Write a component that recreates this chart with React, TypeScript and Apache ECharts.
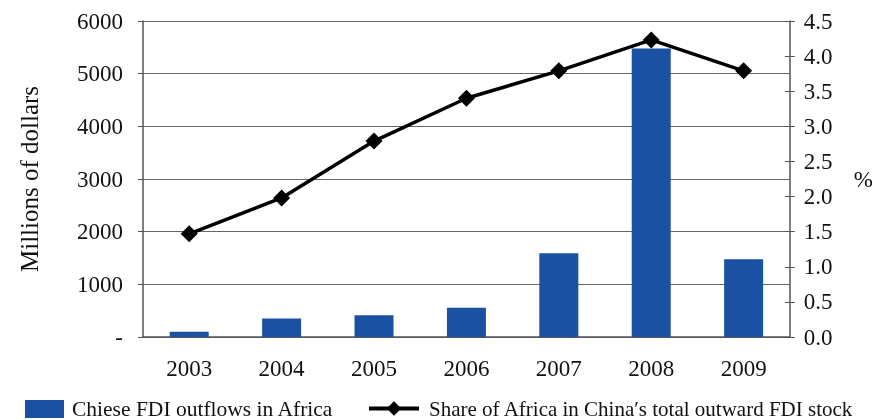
import React, { useEffect, useRef } from "react";
import * as echarts from "echarts";

const years = ["2003", "2004", "2005", "2006", "2007", "2008", "2009"];
const fdiOutflows = [100, 350, 415, 555, 1590, 5480, 1475];
const africaShare = [1.47, 1.98, 2.79, 3.4, 3.79, 4.23, 3.79];
const barName = "Chiese FDI outflows in Africa";
const lineName = "Share of Africa in China\u2032s total outward FDI stock";

const FONT = "'Liberation Serif', 'Times New Roman', serif";

export default function App() {
  const ref = useRef<HTMLDivElement>(null);
  useEffect(() => {
    if (!ref.current) return;
    const chart = echarts.init(ref.current, null, { renderer: "svg" });
    const axisText = { fontFamily: FONT, fontSize: 23, color: "#111" };
    chart.setOption({
      animation: false,
      textStyle: { fontFamily: FONT },
      grid: { left: 143, right: 83, top: 21, bottom: 83, containLabel: false },
      legend: [
        {
          data: [{ name: barName, icon: "rect" }],
          left: 25,
          top: 398,
          itemWidth: 39,
          itemHeight: 18,
          itemGap: 10,
          padding: 0,
          textStyle: { fontFamily: FONT, fontSize: 21.5, color: "#111", padding: [0, 0, 0, 3] },
        },
        {
          data: [lineName],
          left: 367,
          top: 398,
          itemWidth: 50,
          itemHeight: 18,
          padding: 0,
          lineStyle: { width: 4, color: "#000" },
          itemStyle: { color: "#000" },
          textStyle: { fontFamily: FONT, fontSize: 21, color: "#111", padding: [0, 0, 0, 5] },
        },
      ],
      xAxis: {
        type: "category",
        data: years,
        axisLine: { lineStyle: { color: "#555", width: 1.5 } },
        axisTick: { show: false },
        axisLabel: { ...axisText, margin: 20 },
      },
      yAxis: [
        {
          type: "value",
          min: 0,
          max: 6000,
          interval: 1000,
          name: "Millions of dollars",
          nameLocation: "middle",
          nameRotate: 90,
          nameGap: 101,
          nameTextStyle: { fontFamily: FONT, fontSize: 25, color: "#111" },
          axisLine: { show: true, lineStyle: { color: "#555", width: 1.5 } },
          axisTick: { show: true, length: 5, lineStyle: { color: "#555" } },
          axisLabel: {
            ...axisText,
            margin: 20,
            formatter: (v: number) => (v === 0 ? "-" : String(v)),
          },
          splitLine: { show: true, lineStyle: { color: "#666", width: 1.2 } },
        },
        {
          type: "value",
          min: 0,
          max: 4.5,
          interval: 0.5,
          position: "right",
          name: "%",
          nameLocation: "middle",
          nameRotate: 0,
          nameGap: 64,
          nameTextStyle: { fontFamily: FONT, fontSize: 23, color: "#111" },
          axisLine: { show: true, lineStyle: { color: "#555", width: 1.5 } },
          axisTick: { show: true, length: 5, lineStyle: { color: "#555" } },
          axisLabel: {
            ...axisText,
            margin: 14,
            formatter: (v: number) => v.toFixed(1),
          },
          splitLine: { show: false },
        },
        {
          type: "value",
          min: 0,
          max: 4.5,
          interval: 0.5,
          position: "right",
          axisLine: { show: false },
          axisTick: { show: true, inside: true, length: 5, lineStyle: { color: "#555" } },
          axisLabel: { show: false },
          splitLine: { show: false },
        },
      ],
      series: [
        {
          name: barName,
          type: "bar",
          data: fdiOutflows,
          yAxisIndex: 0,
          barWidth: 39,
          itemStyle: { color: "#1B51A3" },
        },
        {
          name: lineName,
          type: "line",
          data: africaShare,
          yAxisIndex: 1,
          symbol: "diamond",
          symbolSize: 17,
          lineStyle: { color: "#000", width: 3.5 },
          itemStyle: { color: "#000" },
        },
      ],
    });
    return () => chart.dispose();
  }, []);
  return (
    <div
      ref={ref}
      style={{ position: "fixed", left: 0, top: 0, width: 876, height: 420 }}
    />
  );
}
